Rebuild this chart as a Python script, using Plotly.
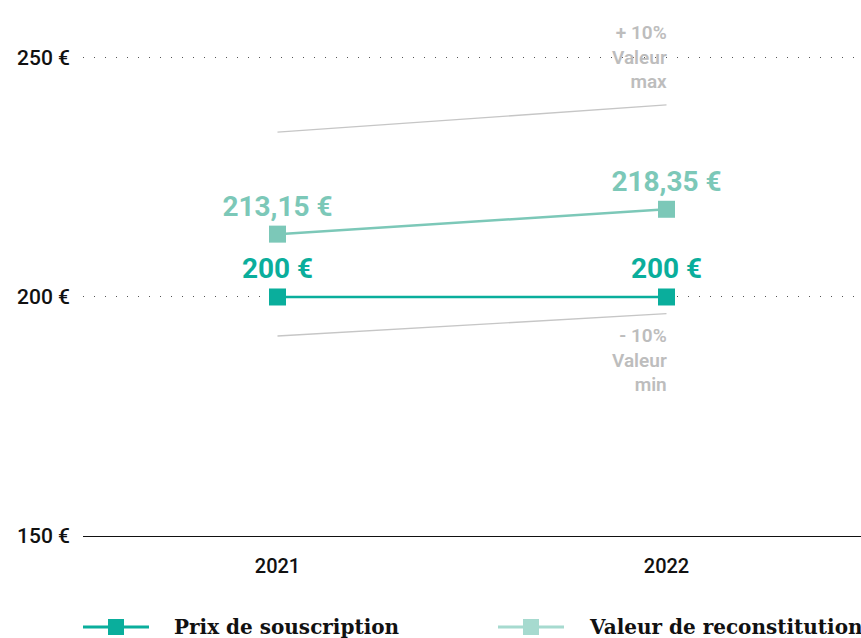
import plotly.graph_objects as go

years = [2021, 2022]
prix = [200, 200]
valeur = [213.15, 218.35]
valeur_max = [234.47, 240.19]
valeur_min = [191.84, 196.52]
y_ticks = [150, 200, 250]
y_tick_labels = ["150 €", "200 €", "250 €"]
series_names = ["Prix de souscription", "Valeur de reconstitution"]

def fmt(v):
    if float(v).is_integer():
        return f"{int(v)} €"
    return f"{v:.2f}".replace(".", ",") + " €"

C_PRIX = "#0aae9c"
C_VAL = "#7cc8b8"
C_VAL_LEG = "#a6dacf"
C_GRAY = "#c6c6c6"

fig = go.Figure()

fig.add_trace(go.Scatter(x=years, y=valeur_max, mode="lines", line=dict(color=C_GRAY, width=1.3),
                         showlegend=False, hoverinfo="skip"))
fig.add_trace(go.Scatter(x=years, y=valeur_min, mode="lines", line=dict(color=C_GRAY, width=1.3),
                         showlegend=False, hoverinfo="skip"))

fig.add_trace(go.Scatter(
    x=years, y=prix, mode="lines+markers+text", name=series_names[0],
    line=dict(color=C_PRIX, width=2.5),
    marker=dict(symbol="square", size=17, color=C_PRIX),
    text=[fmt(v) for v in prix], textposition="top center",
    textfont=dict(family="Roboto", size=28, color=C_PRIX, weight=700),
))
fig.add_trace(go.Scatter(
    x=years, y=valeur, mode="lines+markers+text", name=series_names[1],
    line=dict(color=C_VAL, width=2.5),
    marker=dict(symbol="square", size=17, color=C_VAL),
    text=[fmt(v) for v in valeur], textposition="top center",
    textfont=dict(family="Roboto", size=28, color=C_VAL, weight=700),
))

ann_font = dict(family="Roboto", size=19, color="#bdbdbd", weight=600)
fig.add_annotation(x=years[1], y=valeur_max[1], xref="x", yref="y", text="+ 10%<br>Valeur<br>max",
                   showarrow=False, xanchor="right", yanchor="bottom", align="right",
                   yshift=10, xshift=2, font=ann_font)
fig.add_annotation(x=years[1], y=valeur_min[1], xref="x", yref="y", text="- 10%<br>Valeur<br>min",
                   showarrow=False, xanchor="right", yanchor="top", align="right",
                   yshift=-8, xshift=2, font=ann_font)

# Custom legend (below the plot, in pixel-based paper coordinates)
W, H = 861, 638
L, B = 83, 102
pw, ph = W - L, H - B
def px(x):
    return (x - L) / pw
def py(y):
    return (H - B - y) / ph

leg_items = [(series_names[0], C_PRIX, C_PRIX, 83), (series_names[1], C_VAL_LEG, C_VAL_LEG, 498)]
for name, lc, mc, x0 in leg_items:
    yc = 627
    fig.add_shape(type="line", xref="paper", yref="paper", x0=px(x0), x1=px(x0 + 66),
                  y0=py(yc), y1=py(yc), line=dict(color=lc, width=3))
    fig.add_shape(type="rect", xref="paper", yref="paper", x0=px(x0 + 25), x1=px(x0 + 41),
                  y0=py(yc + 8), y1=py(yc - 8), line=dict(width=0), fillcolor=mc)
    fig.add_annotation(xref="paper", yref="paper", x=px(x0 + 89), y=py(yc), text=name,
                       showarrow=False, xanchor="left", yanchor="middle",
                       font=dict(family="DejaVu Serif", size=20, color="#111", weight=700))

fig.update_layout(
    width=W, height=H,
    margin=dict(l=L, r=0, t=0, b=B),
    plot_bgcolor="white", paper_bgcolor="white",
    font=dict(family="Roboto", size=21, color="#111"),
    showlegend=False,
)
fig.update_xaxes(range=[2020.5, 2022.5], tickvals=years, ticktext=[str(y) for y in years],
                 showgrid=False, zeroline=False, showline=True, linecolor="#111", linewidth=1.3,
                 ticks="", ticklabelstandoff=12, tickfont=dict(size=20, color="#111", weight=500))
fig.update_yaxes(range=[150, 262.13], tickvals=y_ticks, ticktext=y_tick_labels,
                 showgrid=True, gridcolor="#555", gridwidth=1, griddash="1px,10px",
                 zeroline=False, showline=False, ticks="", ticklabelstandoff=12,
                 tickfont=dict(size=21, color="#111", weight=500))

fig.write_html("out.html")
